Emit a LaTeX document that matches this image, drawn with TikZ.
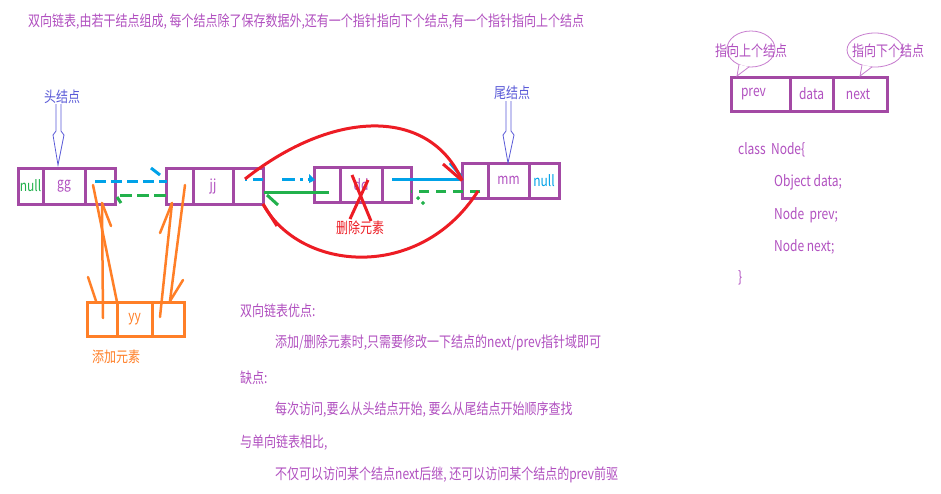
\documentclass[tikz,border=0pt]{standalone}
\usepackage{fontspec}
\setmainfont{Noto Sans CJK SC}[FakeStretch=0.8]
\usetikzlibrary{arrows.meta}

\definecolor{boxpurple}{HTML}{A349A4}
\definecolor{txtpurple}{HTML}{B150C0}
\definecolor{labelblue}{HTML}{5A5AD8}
\definecolor{linkblue}{HTML}{00A2E8}
\definecolor{linkgreen}{HTML}{22B14C}
\definecolor{linkred}{HTML}{ED1C24}
\definecolor{addorange}{HTML}{FF7F27}
\definecolor{bubble}{HTML}{C77DCF}

\begin{document}
\begin{tikzpicture}[x=1pt,y=-1pt,
  cell/.style={draw=boxpurple, line width=3pt, minimum width=#1, minimum height=36pt,
    inner sep=0pt, outer sep=0pt, anchor=north west, text=txtpurple,
    font=\fontsize{15}{17}\selectfont},
  cellb/.style={cell=#1, minimum height=35pt},
  cello/.style={cell=#1, minimum height=34pt, draw=addorange, text=addorange},
  cellp/.style={cell=#1, minimum height=34pt},
  txt/.style={text=txtpurple, font=\fontsize{15}{17}\selectfont, inner sep=0pt},
  ptr/.style={line width=3pt},
  add/.style={draw=addorange, line width=2.5pt, line cap=round},
  marker/.style={draw=labelblue, line width=0.8pt, line join=miter},
  callout/.style={draw=bubble, line width=0.8pt}]

\useasboundingbox[fill=white] (0,0) rectangle (941,493);

% heading
\node[txt, anchor=west] (title) at (28,22)
  {双向链表,由若干结点组成, 每个结点除了保存数据外,还有一个指针指向下个结点,有一个指针指向上个结点};

% head node
\node[cell=25pt, text=linkgreen] (h1) at (18,168) {null};
\node[cell=42pt] (h2) at (43,168) {gg};
\node[cell=30pt] (h3) at (85,168) {};
% second node
\node[cell=27pt] (j1) at (166,168) {};
\node[cell=40pt] (j2) at (193,168) {jj};
\node[cell=30pt] (j3) at (233,168) {};
% node being removed
\node[cellb=26pt] (d1) at (314,167) {};
\node[cellb=42pt] (d2) at (340,167) {dd};
\node[cellb=29pt] (d3) at (382,167) {};
% tail node
\node[cellb=26pt] (t1) at (462,163) {};
\node[cellb=41pt] (t2) at (488,163) {\raisebox{-6pt}{mm}};
\node[cellb=30pt, text=linkblue] (t3) at (529,163) {\raisebox{-6pt}{null}};
% node being inserted
\node[cello=30pt] (y1) at (87,302) {};
\node[cello=35pt] (y2) at (117,302) {\raisebox{-3pt}{yy}};
\node[cello=32pt] (y3) at (152,302) {};

% head / tail markers
\node[txt, text=labelblue] (headlbl) at (62,97) {头结点};
\node[txt, text=labelblue] (taillbl) at (512,93) {尾结点};
\draw[marker] (56,104) -- (56,131) -- (53,135) -- (58,165) -- (64,135) -- (61,131) -- (61,104);
\draw[marker] (506,101) -- (506,131) -- (503,135) -- (508,163) -- (514,135) -- (511,131) -- (511,101);

% forward / backward pointers
\coordinate (a1) at (95,181);
\coordinate (a2) at (167,181);
\draw[ptr, linkblue, dash pattern=on 11pt off 5pt] (a1) -- (a2);
\draw[ptr, linkblue] (151,168) -- (160,175);
\coordinate (b1) at (166,195);
\coordinate (b2) at (116,195);
\draw[ptr, linkgreen, dash pattern=on 12pt off 5pt] (b1) -- (b2);
\draw[ptr, linkgreen] (117,197) -- (121,203);

\coordinate (c1) at (245,179);
\coordinate (c2) at (311,179);
\draw[ptr, linkblue, dash pattern=on 2pt off 6pt on 10pt off 19pt on 13pt off 5pt on 3pt off 5pt] (c1) -- (c2);
\fill[linkblue] (309,174) -- (315,180) -- (309,183) -- cycle;
\coordinate (e1) at (329,192);
\coordinate (e2) at (264,192);
\draw[ptr, linkgreen] (e1) -- (e2);
\draw[ptr, linkgreen] (267,195) -- (278,205);

\coordinate (f1) at (392,179);
\coordinate (f2) at (462,179);
\draw[ptr, linkblue] (f1) -- (f2);
\draw[ptr, linkblue] (450,163) -- (461,176);
\coordinate (g1) at (480,191);
\coordinate (g2) at (411,191);
\draw[ptr, linkgreen, dash pattern=on 10pt off 7pt] (g1) -- (g2);
\draw[ptr, linkgreen, dash pattern=on 3pt off 4pt] (417,197) -- (426,206);

% removal: bypass links and cross
\draw[ptr, linkred] (c1) .. controls (335,108) and (430,108) .. (t1.west);
\draw[ptr, linkred] (443,164) -- (t1.west);
\draw[ptr, linkred] (478,191) .. controls (420,282) and (300,272) .. (j3.south east);
\draw[ptr, linkred] (j3.south east) -- (277,226);
\draw[ptr, linkred] (352,175) -- (371,221);
\draw[ptr, linkred] (368,180) -- (350,219);
\node[txt, text=linkred] (dellbl) at (360,228) {删除元素};

% insertion links
\draw[add] (93,185) -- (y1.north east);
\draw[add] (88,277) -- (96,301);
\draw[add] (103,318) -- (102,203);
\draw[add] (102,203) -- (111,226);
\draw[add] (185,185) -- (170,301);
\draw[add] (183,280) -- (170,301);
\draw[add] (160,317) -- (172,203);
\draw[add] (172,203) -- (160,233);
\node[txt, text=addorange] (addlbl) at (116,357) {添加元素};

% summary text
\node[txt, anchor=west] (s1) at (240,311) {双向链表优点:};
\node[txt, anchor=west] (s2) at (275,343) {添加/删除元素时,只需要修改一下结点的next/prev指针域即可};
\node[txt, anchor=west] (s3) at (240,378) {缺点:};
\node[txt, anchor=west] (s4) at (275,410) {每次访问,要么从头结点开始, 要么从尾结点开始顺序查找};
\node[txt, anchor=west] (s5) at (240,443) {与单向链表相比,};
\node[txt, anchor=west] (s6) at (275,475) {不仅可以访问某个结点next后继, 还可以访问某个结点的prev前驱};

% node layout legend
\node[cellp=59pt] (p1) at (731,77) {\raisebox{-4pt}{\hspace*{-14pt}prev}};
\node[cellp=43pt] (p2) at (790,77) {\raisebox{-4pt}{data}};
\node[cellp=54pt] (p3) at (833,77) {\raisebox{-4pt}{\hspace*{-4pt}next}};

\draw[callout] (751,49) ellipse [x radius=24pt, y radius=18pt];
\draw[callout, fill=white] (739,64.6) -- (737,76) -- (749,66.9);
\draw[callout] (875,50) ellipse [x radius=28pt, y radius=17pt];
\draw[callout, fill=white] (862,65) -- (860,76) -- (872,66.9);
\node[txt] (prevlbl) at (751,51) {指向上个结点};
\node[txt] (nextlbl) at (888,51) {指向下个结点};

% class definition
\node[txt, anchor=west] (k1) at (738,150) {class\ \ Node\{};
\node[txt, anchor=west] (k2) at (774,182) {Object data;};
\node[txt, anchor=west] (k3) at (774,215) {Node\ \ prev;};
\node[txt, anchor=west] (k4) at (774,247) {Node next;};
\node[txt, anchor=west] (k5) at (738,278) {\}};
\end{tikzpicture}
\end{document}
